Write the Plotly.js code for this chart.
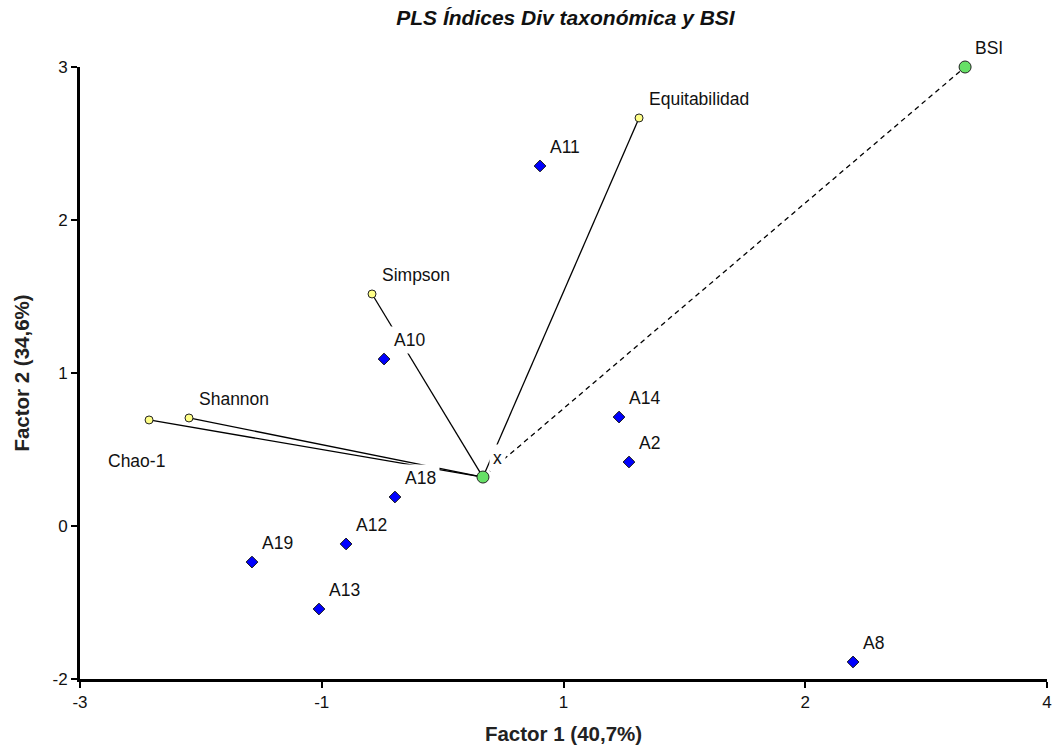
<!DOCTYPE html>
<html>
<head>
<meta charset="utf-8">
<script src="https://cdn.plot.ly/plotly-3.0.1.min.js"></script>
<style>html,body{margin:0;padding:0;background:#fff;}#chart{width:1053px;height:749px;}</style>
</head>
<body>
<div id="chart"></div>
<script>
// ---- data ----
const siteNames = ['A11','A10','A14','A2','A18','A12','A19','A13','A8'];
const siteF1 = [0.330,-0.799,0.902,0.974,-0.720,-1.074,-1.755,-1.270,2.596];
const siteF2 = [2.256,0.805,0.369,0.031,-0.232,-0.585,-0.721,-1.074,-1.472];

const indexNames = ['Equitabilidad','Simpson','Shannon','Chao-1'];
const indexF1 = [1.047,-0.886,-2.211,-2.500];
const indexF2 = [2.617,1.294,0.362,0.347];

const responseNames = ['BSI'];
const responseF1 = [3.407];
const responseF2 = [3.000];

const originNames = ['x'];
const originF1 = [-0.083];
const originF2 = [-0.082];

const xTickVals = [-3,-1.25,0.5,2.25,4];
const xTickText = ['-3','-1','1','2','4'];
const yTickVals = [-1.6,-0.45,0.7,1.85,3.0];
const yTickText = ['-2','0','1','2','3'];

// ---- build traces ----
function rays(xs, ys){
  const lx=[], ly=[];
  for(let i=0;i<xs.length;i++){
    lx.push(originF1[0], xs[i], null);
    ly.push(originF2[0], ys[i], null);
  }
  return {lx, ly};
}
const ir = rays(indexF1, indexF2);
const rr = rays(responseF1, responseF2);

const FONT = 'Arial, "Liberation Sans", sans-serif';
const traces = [
  {x: ir.lx, y: ir.ly, mode:'lines', type:'scatter', line:{color:'#000', width:1.3}, hoverinfo:'skip', cliponaxis:false},
  {x: rr.lx, y: rr.ly, mode:'lines', type:'scatter', line:{color:'#000', width:1.3, dash:'5px,4px'}, hoverinfo:'skip', cliponaxis:false},
  {x: siteF1, y: siteF2, text: siteNames, mode:'markers', type:'scatter',
   marker:{symbol:'diamond', size:9, color:'#0000ff', line:{color:'#111', width:1}}, cliponaxis:false},
  {x: indexF1, y: indexF2, text: indexNames, mode:'markers', type:'scatter',
   marker:{symbol:'circle', size:8, color:'#ffff88', line:{color:'#222', width:1}}, cliponaxis:false},
  {x: responseF1.concat(originF1), y: responseF2.concat(originF2), mode:'markers', type:'scatter',
   marker:{symbol:'circle', size:12, color:'#66e066', line:{color:'#222', width:1}}, cliponaxis:false}
];

// ---- labels ----
const labelOffset = {'Chao-1': {xs:-45, ys:-41}};
const annotations = [];
function addLabels(names, xs, ys){
  names.forEach((n,i)=>{
    const o = labelOffset[n] || {xs:6, ys:19};
    annotations.push({x: xs[i], y: ys[i], text: n, showarrow:false,
      xanchor:'left', yanchor:'middle', xshift:o.xs, yshift:o.ys,
      bgcolor:'#ffffff', borderpad:3,
      font:{family:FONT, size:17.5, color:'#111'}});
  });
}
addLabels(siteNames, siteF1, siteF2);
addLabels(indexNames, indexF1, indexF2);
addLabels(responseNames, responseF1, responseF2);
addLabels(originNames, originF1, originF2);

const layout = {
  width:1053, height:749,
  paper_bgcolor:'#fff', plot_bgcolor:'#fff',
  margin:{l:80, r:6, t:67, b:70},
  showlegend:false,
  title:{text:'<b><i>PLS Índices Div taxonómica y BSI</i></b>', x:0.537, xanchor:'center', y:0.976, yanchor:'middle',
         font:{family:FONT, size:21, color:'#111'}},
  xaxis:{range:[-3,4], tickvals:xTickVals, ticktext:xTickText, showgrid:false, zeroline:false,
         showline:true, linecolor:'#000', linewidth:3, ticks:'outside', ticklen:6, tickwidth:2, tickcolor:'#000',
         tickfont:{family:FONT, size:17, color:'#111'},
         title:{text:'<b>Factor 1 (40,7%)</b>', font:{family:FONT, size:20.5, color:'#222'}, standoff:16}},
  yaxis:{range:[-1.6,3.0], tickvals:yTickVals, ticktext:yTickText, showgrid:false, zeroline:false,
         showline:true, linecolor:'#000', linewidth:3, ticks:'outside', ticklen:6, tickwidth:2, tickcolor:'#000',
         tickfont:{family:FONT, size:17, color:'#111'},
         title:{text:'<b>Factor 2 (34,6%)</b>', font:{family:FONT, size:20.5, color:'#222'}, standoff:18}},
  annotations: annotations
};

Plotly.newPlot('chart', traces, layout, {displayModeBar:false, staticPlot:true});
</script>
</body>
</html>
